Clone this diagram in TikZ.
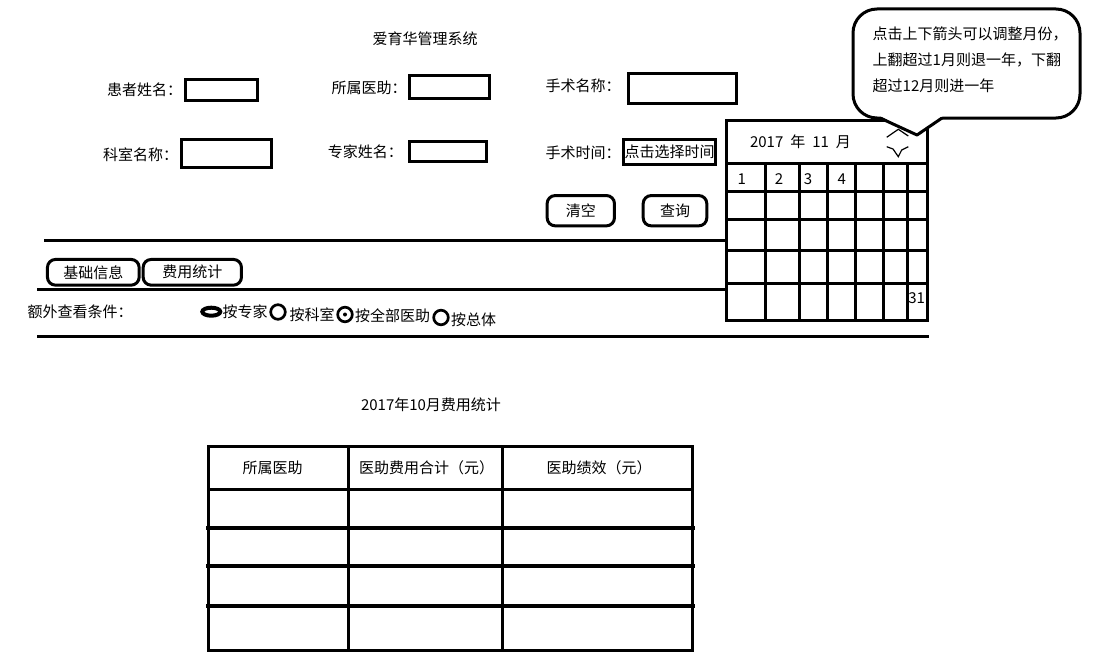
\documentclass[tikz,border=0pt]{standalone}
\usepackage{fontspec}
\setmainfont{Noto Sans CJK SC}
\usepackage{tikz}
\tikzstyle{field}=[draw,line width=3pt]
\tikzstyle{button}=[field,rounded corners=8pt]
\tikzstyle{rule}=[line width=3pt]
\tikzstyle{heavy}=[line width=4pt]
\tikzstyle{radio}=[line width=2.7pt]
\tikzstyle{wiggle}=[line width=1.2pt]

\begin{document}
\begin{tikzpicture}[x=1pt,y=-1pt,every node/.style={font=\fontsize{15}{18}\selectfont,inner sep=0pt}]
	\useasboundingbox (0,0) rectangle (1093,669);
	\node (title) at (425,38.3) {爱育华管理系统};
	\foreach \n/\t/\x/\y in {patient/患者姓名：/144.5/90, dept/科室名称：/140.5/155,
			assistant/所属医助：/369/88.3, expert/专家姓名：/365.3/151.7,
			opname/手术名称：/583/86, optime/手术时间：/583/152.7}
		\node (\n) at (\x,\y) {\t};
	\foreach \n/\x/\y/\w/\h in {patient/221.8/89.7/72/21, dept/226.3/153.7/89.7/27.7,
			assistant/449.5/87/80/23, expert/447.8/151.3/76.7/19.7, opname/682.8/88.7/108/29.7}
		\node[field,minimum width=\w pt,minimum height=\h pt] (\n-box) at (\x,\y) {};
	\node[field,minimum width=92.6pt,minimum height=25.3pt] (optime-box) at (669.5,151.8) {点击选择时间};
	\node[button,minimum width=67.3pt,minimum height=30.3pt] (clear) at (580.8,210.7) {清空};
	\node[button,minimum width=63.6pt,minimum height=30.3pt] (query) at (675,210.7) {查询};

	\draw[rule] (44,240) -- (726,240);
	\node[button,minimum width=91.7pt,minimum height=25.7pt] (basic) at (93.3,272.3) {基础信息};
	\node[button,minimum width=98.3pt,minimum height=25.7pt] (cost) at (192.3,272.3) {费用统计};
	\draw[rule] (37,289.3) -- (726,289.3);
	\node (extra) at (80,311.7) {额外查看条件：};
	\draw[line width=4pt] (211.3,311.7) ellipse (9pt and 4pt);
	\foreach \x/\y in {278/312, 345/314.5, 441/317.5}
		\draw[radio] (\x,\y) circle (7.3pt);
	\fill (345,314.5) circle (2pt);
	\foreach \n/\t/\x/\y in {byexpert/按专家/245/311.7, bydept/按科室/312/315,
			byassistant/按全部医助/392.5/316, bytotal/按总体/473.5/320}
		\node (\n) at (\x,\y) {\t};
	\draw[rule] (37,336.7) -- (929,336.7);

	\draw[rule] (726,120) rectangle (927,320);
	\draw[rule] (726,163) -- (927,163);
	\foreach \y in {191,250} \draw[rule] (726,\y) -- (927,\y);
	\foreach \y in {219,283} \draw[rule] (726,\y) -- (929,\y);
	\foreach \x in {765,799,827,855,883,907} \draw[rule] (\x,163) -- (\x,320);
	\node (month) at (800.5,141.7) {2017\hspace{7pt}年\hspace{7pt}11\hspace{7pt}月};
	\foreach \n/\x in {1/741.7, 2/779, 3/808, 4/841.7}
		\node (day\n) at (\x,179) {\n};
	\node (day31) at (916.7,297.7) {31};
	\draw[wiggle] (886.7,137.3) -- (898.3,129.3) -- (908.3,136);
	\draw[wiggle] (886.7,146.7) -- (893,149) -- (898.3,156.7) -- (901.7,150) -- (908.3,146.7);

	\draw[rule,rounded corners=24pt,fill=white] (853,9) rectangle (1080,118);
	\fill[white] (878,115) -- (917,135) -- (944,115) -- cycle;
	\draw[rule,line join=round] (880,118) -- (917,135) -- (942,118);
	\node[anchor=west,align=left,font=\fontsize{15}{26}\selectfont] (hint) at (872.5,59.3)
		{点击上下箭头可以调整月份，\\上翻超过1月则退一年，下翻\\超过12月则进一年};

	\node (stat) at (431,405) {2017年10月费用统计};
	\draw[rule] (208,446) rectangle (692,650);
	\draw[rule] (208,489) -- (692,489);
	\foreach \y in {528,566,606} \draw[heavy] (206,\y) -- (695,\y);
	\foreach \x in {348,502} \draw[rule] (\x,446) -- (\x,650);
	\foreach \n/\t/\x in {c1/所属医助/272.5, c2/医助费用合计（元）/426.7, c3/医助绩效（元）/599}
		\node (\n) at (\x,467.7) {\t};
\end{tikzpicture}
\end{document}
